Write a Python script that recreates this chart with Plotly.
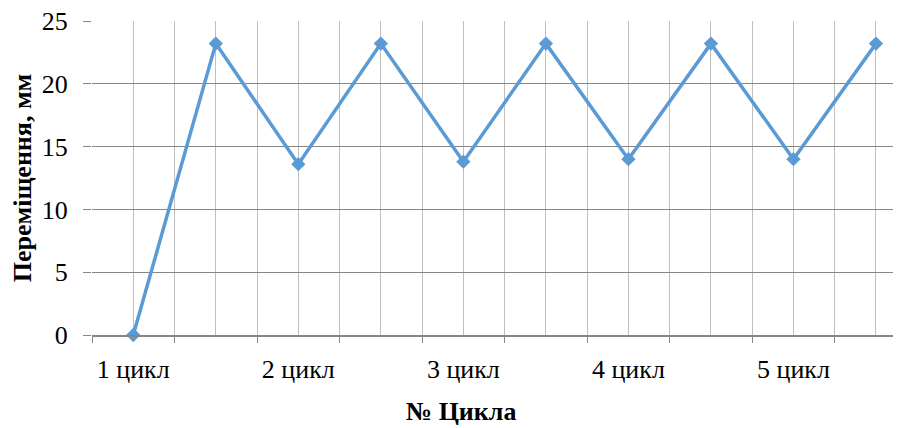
import plotly.graph_objects as go

categories = ["1 цикл", "", "2 цикл", "", "3 цикл", "", "4 цикл", "", "5 цикл", ""]
values = [0, 23.2, 13.6, 23.2, 13.8, 23.2, 14.0, 23.2, 14.0, 23.2]
y_ticks = [0, 5, 10, 15, 20, 25]
x_title = "№ Цикла"
y_title = "Переміщення, мм"

x_idx = list(range(len(categories)))

fig = go.Figure()
fig.add_trace(go.Scatter(
    x=x_idx, y=values, mode="lines+markers",
    line=dict(color="#5b9bd5", width=3.5),
    marker=dict(symbol="diamond", size=11, color="#5b9bd5"),
    showlegend=False, cliponaxis=False,
))

font_family = "Liberation Serif"
fig.update_layout(
    width=901, height=428,
    margin=dict(l=84, r=0, t=13, b=101),
    paper_bgcolor="white", plot_bgcolor="white",
    font=dict(family=font_family, size=26, color="black"),
    xaxis=dict(
        range=[-0.5, 9.40], automargin=False,
        tickmode="array", tickvals=x_idx, ticktext=categories,
        ticks="", showgrid=True, gridcolor="#bfbfbf", gridwidth=1,
        showline=True, linecolor="#868686", linewidth=2,
        zeroline=False, ticklabelstandoff=10, ticklabeloverflow="allow",
        minor=dict(tickmode="linear", tick0=-0.5, dtick=1, ticks="outside",
                   ticklen=6, tickcolor="#868686", showgrid=True,
                   gridcolor="#bfbfbf", gridwidth=1),
        tickfont=dict(size=26),
    ),
    yaxis=dict(
        range=[0, 25], tickvals=y_ticks, automargin=False,
        ticks="outside", ticklen=8, tickcolor="#868686",
        showgrid=True, gridcolor="#868686", gridwidth=1,
        showline=False, zeroline=False, ticklabelstandoff=10,
        ticklabeloverflow="allow",
        title=dict(text="<b>" + y_title + "</b>", font=dict(size=26), standoff=16),
        tickfont=dict(size=26),
    ),
    annotations=[dict(
        text="<b>" + x_title + "</b>", xref="paper", yref="paper",
        x=0.4512, y=-0.243, xanchor="center", yanchor="middle",
        showarrow=False, font=dict(size=26, family=font_family, color="black"),
    )],
)

fig.write_html("out.html")
